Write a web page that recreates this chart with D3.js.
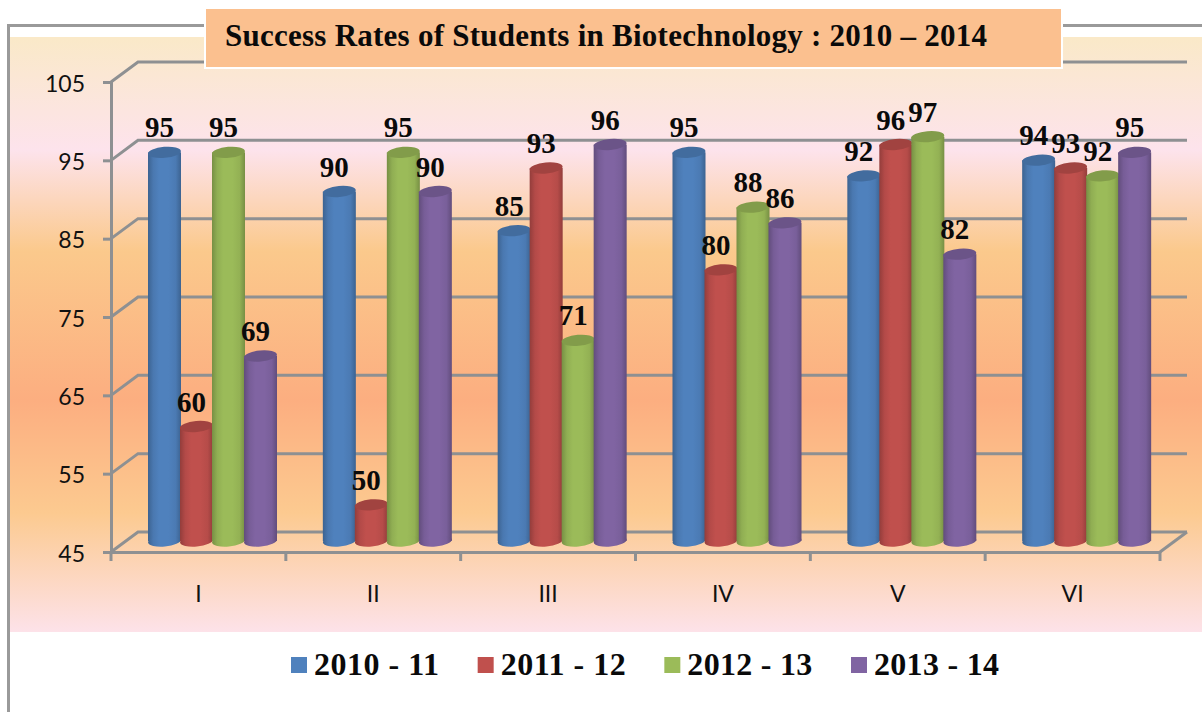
<!DOCTYPE html>
<html><head><meta charset="utf-8">
<script src="https://cdnjs.cloudflare.com/ajax/libs/d3/7.8.5/d3.min.js"></script>
<style>html,body{margin:0;padding:0;background:#fff;overflow:hidden}svg{display:block}</style>
</head><body><svg id="c" width="1202" height="712"></svg>
<script>
const chartTitle = "Success Rates of Students in Biotechnology : 2010 – 2014";
const categories = ["I","II","III","IV","V","VI"];
const seriesNames = ["2010 - 11","2011 - 12","2012 - 13","2013 - 14"];
const values2010 = [95,90,85,95,92,94];
const values2011 = [60,50,93,80,96,93];
const values2012 = [95,95,71,88,97,92];
const values2013 = [69,90,96,86,82,95];
const yTicks = [45,55,65,75,85,95,105];
const seriesColors = ["#4f81bd","#c0504d","#9bbb59","#8064a2"];

const allValues = [values2010,values2011,values2012,values2013];
const svg = d3.select("#c");
const defs = svg.append("defs");
const serif = "'Liberation Serif',serif", sans = "Lato,sans-serif";
const pLeft=111,pRight=1160,pBottom=552,pTop=82,dx=27,dy=-20;
const x = d3.scaleBand().domain(categories).range([pLeft,pRight]);
const y = d3.scaleLinear().domain([45,105]).range([pBottom,pTop]);
const inner = d3.scaleBand().domain(d3.range(4)).range([37,37+128]);

const bg = defs.append("linearGradient").attr("id","bg").attr("x1",0).attr("x2",0).attr("y1",0).attr("y2",1);
[[0,"#fae9c8"],[.19,"#fde3ec"],[.36,"#fbc98c"],[.61,"#fcae80"],[.8,"#fcca90"],[1,"#fde2e9"]]
 .forEach(s=>bg.append("stop").attr("offset",s[0]).attr("stop-color",s[1]));
const shade=(c,k)=>d3.color(c).darker(k).formatHex();
seriesColors.forEach((c,i)=>{
  const g=defs.append("linearGradient").attr("id","cyl"+i);
  [[0,shade(c,.75)],[.16,shade(c,.2)],[.34,c],[.62,c],[.84,shade(c,.15)],[1,shade(c,.75)]]
   .forEach(s=>g.append("stop").attr("offset",s[0]).attr("stop-color",s[1]));
});

svg.append("rect").attr("x",9).attr("y",37).attr("width",1193).attr("height",595).attr("fill","url(#bg)");
svg.append("path").attr("d","M8.5,712V25.5H210M1060,25.5H1202").attr("fill","none").attr("stroke","#9a9a9a").attr("stroke-width",3);

const grid=svg.append("g").attr("fill","none").attr("stroke","#8e9092").attr("stroke-width",3);
yTicks.forEach(t=>{
  grid.append("path").attr("d",`M${pLeft},${y(t)}L${pLeft+dx},${y(t)+dy}H${pRight+dx}`);
});
grid.append("path").attr("d",`M${pRight},${pBottom}L${pRight+dx},${pBottom+dy}`);

const yAxis=svg.append("g").attr("transform",`translate(${pLeft},0)`)
  .call(d3.axisLeft(y).tickValues(yTicks).tickSize(8).tickPadding(18).tickFormat(d3.format("d")));
const xAxis=svg.append("g").attr("transform",`translate(0,${pBottom})`)
  .call(d3.axisBottom(x).tickSize(0).tickPadding(34));
[yAxis,xAxis].forEach(a=>{
  a.selectAll("path.domain").attr("stroke","#8e9092").attr("stroke-width",3);
  a.selectAll("line").attr("stroke","#8e9092").attr("stroke-width",3);
  a.selectAll("text").attr("fill","#111").attr("font-family",sans).attr("font-size",23);
});
yAxis.selectAll("text").attr("dy","0.4em");
d3.range(categories.length+1).forEach(i=>{
  const px=pLeft+i*x.step();
  svg.append("line").attr("x1",px).attr("x2",px).attr("y1",pBottom).attr("y2",pBottom+9)
    .attr("stroke","#8e9092").attr("stroke-width",3);
});

const bars=svg.append("g"), capRy=5.5, tilt=-5;
const barW=inner.bandwidth()+1;
categories.forEach((cat,ci)=>{
  allValues.forEach((vals,si)=>{
    const cx0=x(cat)+inner(si), cx=cx0+barW/2, topY=y(vals[ci])-8, botY=y(45)-11;
    const g=bars.append("g");
    g.append("rect").attr("x",cx0).attr("y",topY).attr("width",barW).attr("height",botY-topY)
      .attr("fill",`url(#cyl${si})`);
    g.append("ellipse").attr("cx",cx).attr("cy",botY).attr("rx",barW/2).attr("ry",capRy)
     .attr("transform",`rotate(${tilt} ${cx} ${botY})`).attr("fill",`url(#cyl${si})`);
    g.append("ellipse").attr("cx",cx).attr("cy",topY).attr("rx",barW/2).attr("ry",capRy)
     .attr("transform",`rotate(${tilt} ${cx} ${topY})`)
     .attr("fill",shade(seriesColors[si],.5));
  });
});
categories.forEach((cat,ci)=>{
  allValues.forEach((vals,si)=>{
    svg.append("text").text(vals[ci])
      .attr("x",x(cat)+inner(si)+barW/2-5).attr("y",y(vals[ci])-8-15)
      .attr("text-anchor","middle").attr("font-family",serif).attr("font-weight","bold")
      .attr("font-size",29).attr("fill","#0a0a0a");
  });
});

svg.append("rect").attr("x",205).attr("y",8).attr("width",857).attr("height",60)
  .attr("fill","#fbc08f").attr("stroke","#fff").attr("stroke-width",2);
svg.append("text").text(chartTitle).attr("x",225).attr("y",46)
  .attr("font-family",serif).attr("font-weight","bold").attr("font-size",31).attr("fill","#0a0a0a")
  .attr("textLength",762).attr("lengthAdjust","spacing");

const legendX=d3.scalePoint().domain(seriesNames).range([291,851]);
seriesNames.forEach((n,i)=>{
  const lx=legendX(n);
  svg.append("rect").attr("x",lx).attr("y",657).attr("width",16).attr("height",16).attr("fill",seriesColors[i]);
  svg.append("text").text(n).attr("x",lx+23).attr("y",675)
    .attr("font-family",serif).attr("font-weight","bold").attr("font-size",32).attr("fill","#0a0a0a")
    .attr("textLength",125).attr("lengthAdjust","spacing");
});
</script></body></html>
